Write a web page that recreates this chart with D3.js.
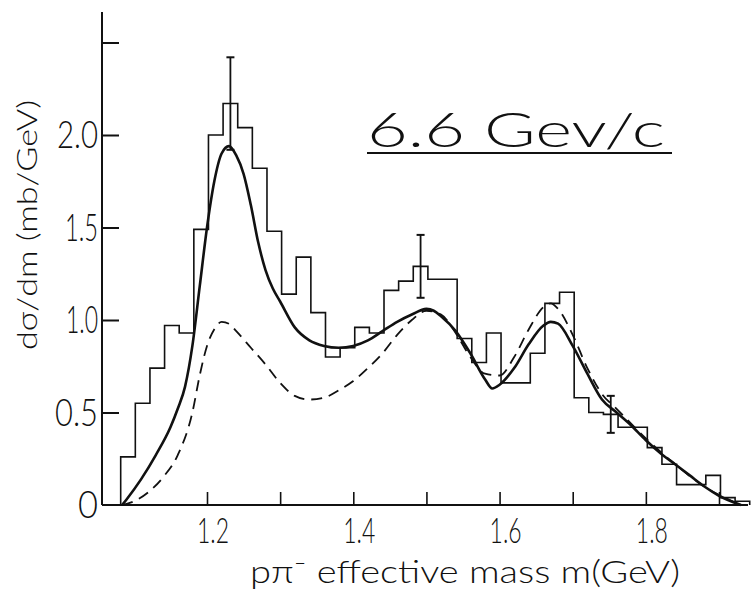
<!DOCTYPE html>
<html>
<head>
<meta charset="utf-8">
<script src="https://cdn.jsdelivr.net/npm/d3@7"></script>
<style>
  html, body { margin: 0; padding: 0; background: #fff; }
  svg { display: block; }
  text { fill: #111; font-family: Lato, "DejaVu Sans", sans-serif; font-weight: 300; }
</style>
</head>
<body>
<svg id="chart" width="751" height="592"></svg>
<script>
// p pi- effective mass spectrum at 6.6 GeV/c

// histogram: 0.02 GeV bins starting at threshold
const binStart = 1.082;
const binWidth = 0.02;
const counts = [
  0.26, 0.55, 0.74, 0.97, 0.93, 1.49, 2.00, 2.17, 2.04, 1.82,
  1.48, 1.14, 1.34, 1.04, 0.80, 0.85, 0.96, 0.93, 1.16, 1.21,
  1.29, 1.22, 1.22, 0.90, 0.77, 0.93, 0.66, 0.66, 0.82, 1.09,
  1.15, 0.58, 0.50, 0.49, 0.42, 0.42, 0.31, 0.22, 0.11, 0.11,
  0.16, 0.04, 0.02
];

// statistical error bars on selected bins: [bin index, half-width]
const errorBars = [[7, 0.25], [20, 0.17], [33, 0.10]];

// full fit (solid) : [mass, dσ/dm]
const fitMass = [1.084, 1.09, 1.11, 1.13, 1.15, 1.16, 1.17, 1.18, 1.19, 1.20,
  1.21, 1.22, 1.23, 1.24, 1.25, 1.26, 1.27, 1.28, 1.29, 1.30,
  1.32, 1.34, 1.36, 1.38, 1.40, 1.42, 1.44, 1.46, 1.48, 1.50,
  1.51, 1.52, 1.54, 1.56, 1.58, 1.59, 1.60, 1.62, 1.64, 1.66,
  1.67, 1.68, 1.70, 1.72, 1.74, 1.76, 1.78, 1.80, 1.82, 1.84,
  1.86, 1.88, 1.90, 1.93];
const fitValue = [0.00, 0.03, 0.14, 0.27, 0.42, 0.52, 0.64, 0.86, 1.18, 1.50,
  1.75, 1.90, 1.94, 1.89, 1.79, 1.62, 1.42, 1.27, 1.17, 1.10,
  0.96, 0.89, 0.86, 0.85, 0.86, 0.89, 0.94, 0.99, 1.03, 1.06,
  1.05, 1.02, 0.94, 0.82, 0.68, 0.63, 0.65, 0.74, 0.87, 0.97,
  0.99, 0.98, 0.86, 0.71, 0.57, 0.50, 0.43, 0.35, 0.28, 0.22,
  0.16, 0.10, 0.05, 0.00];

// alternative model (dashed)
const altMass = [1.084, 1.10, 1.12, 1.14, 1.16, 1.18, 1.19, 1.20, 1.21, 1.22,
  1.23, 1.24, 1.26, 1.28, 1.30, 1.32, 1.34, 1.36, 1.38, 1.40,
  1.42, 1.44, 1.46, 1.48, 1.50, 1.52, 1.54, 1.56, 1.58, 1.60,
  1.62, 1.64, 1.66, 1.67, 1.68, 1.70, 1.72, 1.74, 1.76, 1.80,
  1.84, 1.88, 1.93];
const altValue = [0.00, 0.02, 0.07, 0.15, 0.27, 0.50, 0.70, 0.86, 0.95, 0.99,
  0.98, 0.94, 0.85, 0.76, 0.66, 0.59, 0.57, 0.58, 0.62, 0.67,
  0.74, 0.82, 0.92, 1.00, 1.05, 1.03, 0.93, 0.80, 0.71, 0.70,
  0.80, 0.95, 1.07, 1.09, 1.06, 0.92, 0.74, 0.60, 0.52, 0.36,
  0.22, 0.10, 0.00];

const yTicks = [0, 0.5, 1.0, 1.5, 2.0, 2.5];
const yTickLabels = ["0", "0.5", "1.0", "1.5", "2.0", ""];
const xTicks = [1.2, 1.3, 1.4, 1.5, 1.6, 1.7, 1.8, 1.9];
const xTickLabels = ["1.2", "", "1.4", "", "1.6", "", "1.8", ""];

const svg = d3.select("#chart");

const x = d3.scaleLinear().domain([1.2, 1.9]).range([207, 719]);
const y = d3.scaleLinear().domain([0, 2.5]).range([505, 42.5]);

const axisX0 = 102;          // position of the vertical axis
const axisRight = 748;
const axisTop = 12;

// ---- axes ----
const ink = "#111";
svg.append("line").attr("x1", axisX0).attr("x2", axisX0)
  .attr("y1", y(0)).attr("y2", axisTop)
  .attr("stroke", ink).attr("stroke-width", 2);
svg.append("line").attr("x1", axisX0).attr("x2", axisRight)
  .attr("y1", y(0)).attr("y2", y(0))
  .attr("stroke", ink).attr("stroke-width", 2);

// y ticks point into the plot
const yAxis = d3.axisRight(y).tickValues(yTicks.slice(1))
  .tickSize(17).tickFormat("");
svg.append("g").attr("transform", `translate(${axisX0},0)`).call(yAxis)
  .call(g => g.select(".domain").remove())
  .call(g => g.selectAll("line").attr("stroke", ink).attr("stroke-width", 2));

const xAxis = d3.axisTop(x).tickValues(xTicks).tickSize(13).tickFormat("");
svg.append("g").attr("transform", `translate(0,${y(0)})`).call(xAxis)
  .call(g => g.select(".domain").remove())
  .call(g => g.selectAll("line").attr("stroke", ink).attr("stroke-width", 1.6));

// y tick labels (narrow lettering)
const yLabelWidth = {"0": 20, "0.5": 43, "1.0": 32, "1.5": 33, "2.0": 41};
yTicks.forEach((t, i) => {
  const s = yTickLabels[i];
  if (!s) return;
  svg.append("text")
    .attr("x", 98).attr("y", y(t) + 13)
    .attr("text-anchor", "end")
    .attr("font-size", 37)
    .attr("textLength", yLabelWidth[s])
    .attr("lengthAdjust", "spacingAndGlyphs")
    .text(s);
});

// x tick labels
xTicks.forEach((t, i) => {
  const s = xTickLabels[i];
  if (!s) return;
  svg.append("text")
    .attr("x", x(t) + 6).attr("y", 543)
    .attr("text-anchor", "middle")
    .attr("font-size", 36)
    .attr("textLength", 32)
    .attr("lengthAdjust", "spacingAndGlyphs")
    .text(s);
});

// axis titles
svg.append("text")
  .attr("transform", "translate(37,225) rotate(-90)")
  .attr("text-anchor", "middle")
  .attr("font-size", 28)
  .attr("textLength", 250)
  .attr("lengthAdjust", "spacingAndGlyphs")
  .text("dσ/dm (mb/GeV)");

svg.append("text")
  .attr("x", 465).attr("y", 583)
  .attr("text-anchor", "middle")
  .attr("font-size", 31)
  .attr("textLength", 430)
  .attr("lengthAdjust", "spacingAndGlyphs")
  .text("pπ⁻ effective mass m(GeV)");

// beam momentum annotation
svg.append("text")
  .attr("x", 367).attr("y", 147)
  .attr("font-size", 48)
  .attr("font-weight", 200)
  .attr("textLength", 298)
  .attr("lengthAdjust", "spacingAndGlyphs")
  .text("6.6 Gev/c");
svg.append("line").attr("x1", 367).attr("x2", 672)
  .attr("y1", 153).attr("y2", 153)
  .attr("stroke", ink).attr("stroke-width", 2);

// ---- histogram ----
const edges = d3.range(counts.length + 1).map(k => binStart + k * binWidth);
let hist = [[edges[0], 0]];
counts.forEach((c, k) => { hist.push([edges[k], c]); hist.push([edges[k + 1], c]); });
hist.push([edges[counts.length], 0]);
const stepLine = d3.line().x(d => x(d[0])).y(d => y(d[1]));
svg.append("path").attr("d", stepLine(hist))
  .attr("fill", "none").attr("stroke", ink).attr("stroke-width", 1.6);

// error bars
errorBars.forEach(([k, e]) => {
  const cx = x(edges[k] + binWidth / 2);
  const v = counts[k];
  svg.append("line").attr("x1", cx).attr("x2", cx)
    .attr("y1", y(v - e)).attr("y2", y(v + e))
    .attr("stroke", ink).attr("stroke-width", 1.8);
  [v - e, v + e].forEach(w => svg.append("line")
    .attr("x1", cx - 4).attr("x2", cx + 4)
    .attr("y1", y(w)).attr("y2", y(w))
    .attr("stroke", ink).attr("stroke-width", 2));
});

// ---- model curves ----
const curve = d3.line().x(d => x(d[0])).y(d => y(d[1])).curve(d3.curveMonotoneX);
svg.append("path").attr("d", curve(fitMass.map((m, i) => [m, fitValue[i]])))
  .attr("fill", "none").attr("stroke", ink).attr("stroke-width", 2.6);
svg.append("path").attr("d", curve(altMass.map((m, i) => [m, altValue[i]])))
  .attr("fill", "none").attr("stroke", ink).attr("stroke-width", 1.8)
  .attr("stroke-dasharray", "11,7");
</script>
</body>
</html>
